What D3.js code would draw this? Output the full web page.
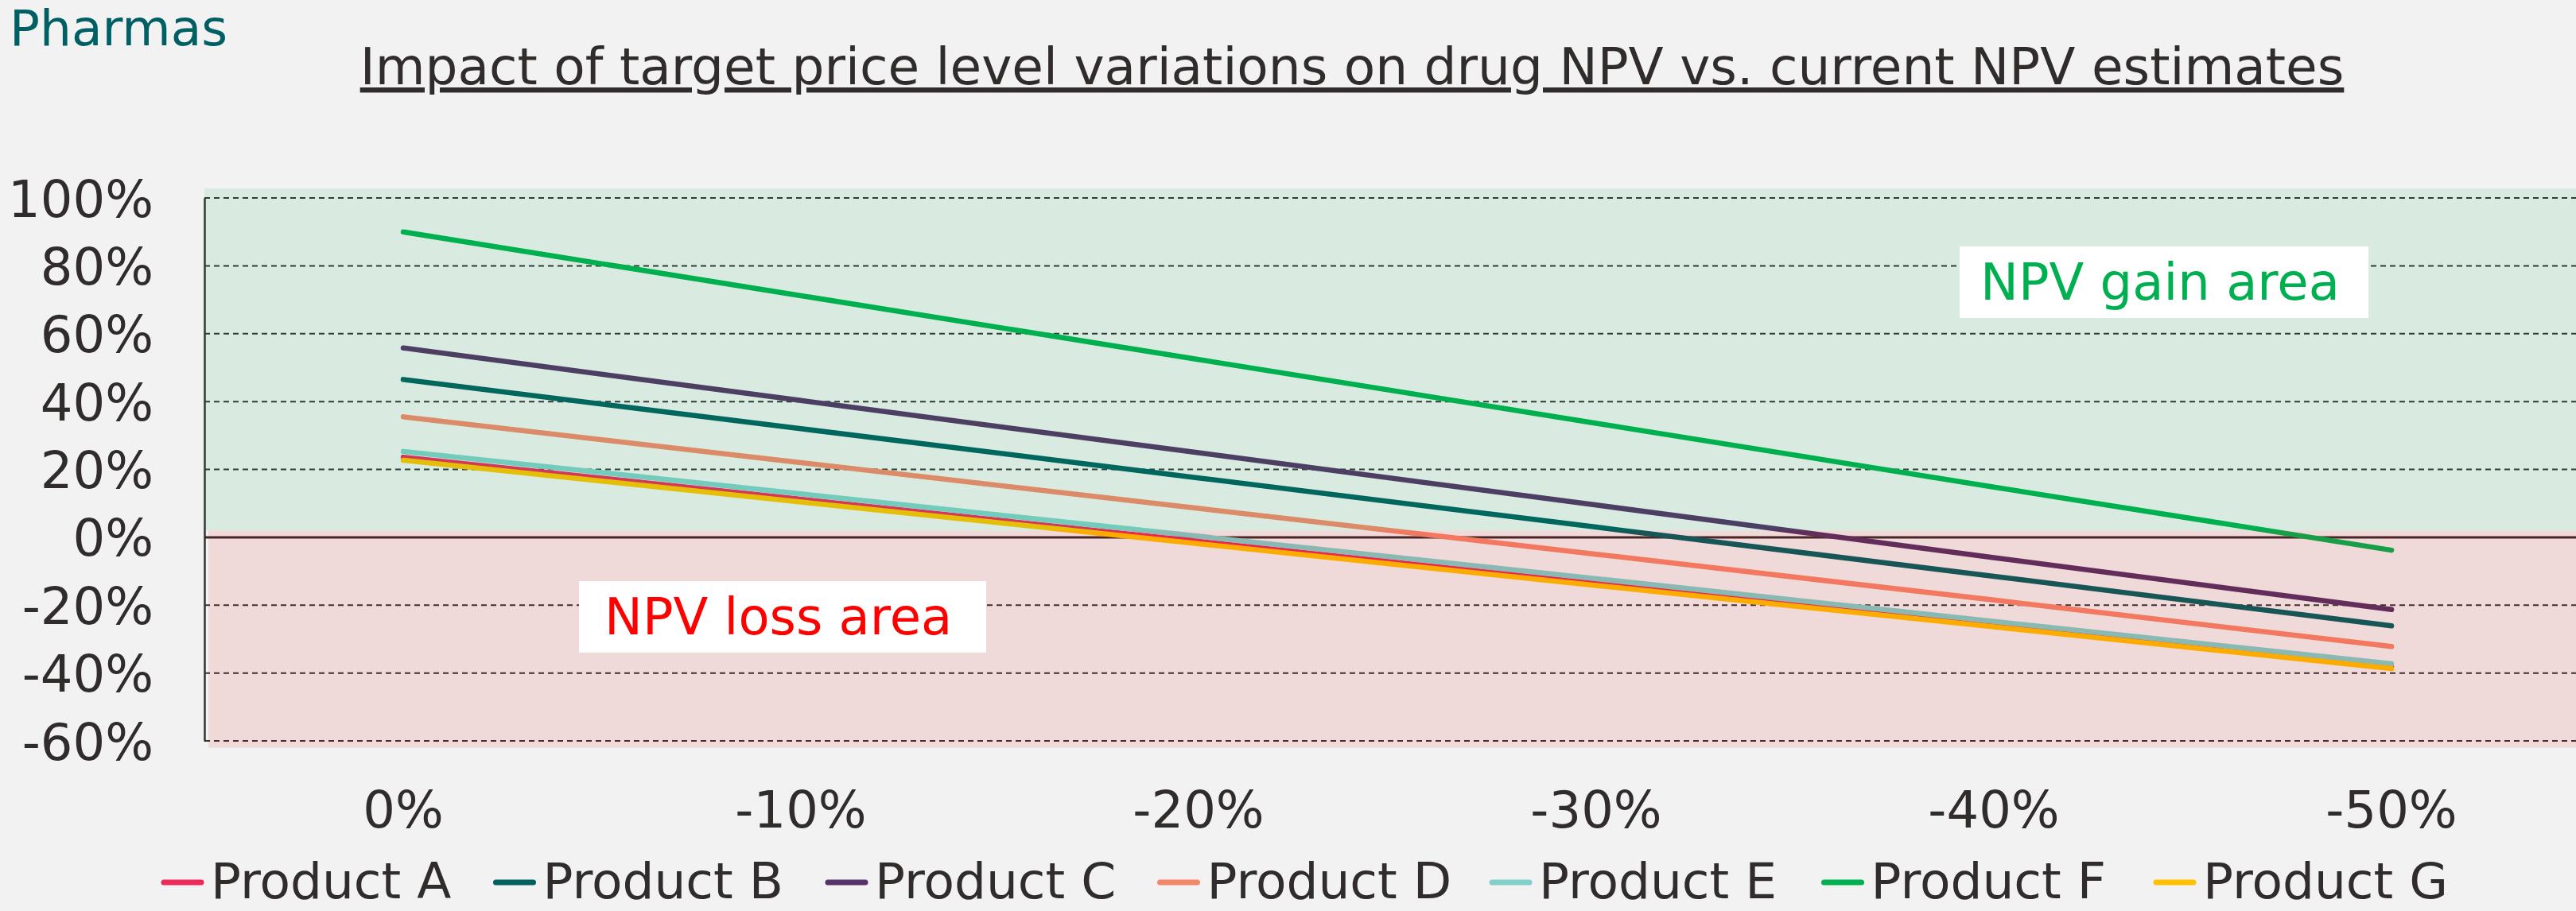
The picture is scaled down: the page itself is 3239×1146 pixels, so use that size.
<!DOCTYPE html>
<html>
  <head>
    <meta charset='utf-8'>
    <title>NPV vs target price</title>
    <script src='https://d3js.org/d3.v7.min.js'></script>
    <style>
      body { margin: 0; background: #f2f2f2; }
      text { font-family: 'DejaVu Sans', Verdana, sans-serif; fill: #302c2c; }
    </style>
  </head>

  <body>
    <div id='grafico'></div>
    <script>
    // Datos
    const categories = ['0%', '-10%', '-20%', '-30%', '-40%', '-50%'];
    const seriesNames = ['Product A', 'Product B', 'Product C', 'Product D', 'Product E', 'Product F', 'Product G'];
    const productA = [23.6, 11.2, -1.2, -13.6, -25.9, -38.2];
    const productB = [46.5, 32.0, 17.5, 3.0, -11.5, -26.1];
    const productC = [55.8, 40.3, 24.9, 9.5, -6.0, -21.3];
    const productD = [35.5, 22.0, 8.5, -5.0, -18.5, -32.2];
    const productE = [25.3, 12.8, 0.3, -12.2, -24.8, -37.3];
    const productF = [90.0, 71.2, 52.4, 33.6, 14.8, -3.8];
    const productG = [22.7, 10.4, -1.9, -14.2, -26.4, -38.7];
    const yTicks = [100, 80, 60, 40, 20, 0, -20, -40, -60];
    const colors = ['#ee2a5a', '#005f60', '#553366', '#f4876a', '#80cfc9', '#00b050', '#ffc000'];

    const series = [productA, productB, productC, productD, productE, productF, productG];

    // Tamaño del lienzo
    const W = 3239, H = 1146;
    const plot = { left: 257, right: 3257, top: 249, bottom: 932 };

    const svg = d3.select('#grafico').append('svg')
                  .attr('width', W)
                  .attr('height', H);

    // Escalas
    const xScale = d3.scaleBand()
      .domain(categories)
      .range([plot.left, plot.right]);
    const xc = c => xScale(c) + xScale.bandwidth() / 2;

    const yScale = d3.scaleLinear()
      .domain([-60, 100])
      .range([plot.bottom, plot.top]);

    // Títulos
    svg.append('text')
      .attr('x', 12).attr('y', 57)
      .style('font-size', '63px')
      .style('fill', '#005f63')
      .text('Pharmas');

    svg.append('text')
      .attr('x', 1700).attr('y', 106)
      .attr('text-anchor', 'middle')
      .style('font-size', '64.5px')
      .style('text-decoration', 'underline')
      .text('Impact of target price level variations on drug NPV vs. current NPV estimates');

    // Rejilla
    svg.append('g')
      .selectAll('line')
      .data(yTicks.filter(d => d !== 0)).enter().append('line')
      .attr('x1', plot.left).attr('x2', W)
      .attr('y1', d => yScale(d)).attr('y2', d => yScale(d))
      .attr('stroke', '#333')
      .attr('stroke-width', 2)
      .attr('stroke-dasharray', '7,5');

    // Eje Y
    const yAxis = d3.axisLeft(yScale)
      .tickValues(yTicks)
      .tickSize(0)
      .tickPadding(64)
      .tickFormat(d => d + '%');
    const gy = svg.append('g')
      .attr('transform', 'translate(' + plot.left + ',0)')
      .call(yAxis);
    gy.select('.domain').attr('stroke', '#333').attr('stroke-width', 2.5);
    gy.selectAll('text')
      .attr('fill', null)
      .attr('dy', '0.36em')
      .style('font-size', '64px');

    // Línea del cero
    svg.append('line')
      .attr('x1', plot.left).attr('x2', W)
      .attr('y1', yScale(0)).attr('y2', yScale(0))
      .attr('stroke', '#3a2a2a')
      .attr('stroke-width', 3);

    // Eje X (solo etiquetas)
    const xAxis = d3.axisBottom(xScale).tickSize(0).tickPadding(0);
    const gx = svg.append('g')
      .attr('transform', 'translate(0,1041)')
      .call(xAxis);
    gx.select('.domain').remove();
    gx.selectAll('text')
      .attr('fill', null)
      .attr('dy', 0)
      .style('font-size', '64px');

    // Líneas de cada producto
    const line = d3.line()
      .x((d, i) => xc(categories[i]))
      .y(d => yScale(d));

    svg.append('g')
      .selectAll('path')
      .data(series).enter().append('path')
      .attr('d', line)
      .attr('fill', 'none')
      .attr('stroke', (d, i) => colors[i])
      .attr('stroke-width', 6.5)
      .attr('stroke-linecap', 'round')
      .attr('stroke-linejoin', 'round');

    // Zonas de ganancia / pérdida (encima, semitransparentes)
    svg.append('rect')
      .attr('x', plot.left).attr('width', W - plot.left)
      .attr('y', yScale(102.8)).attr('height', yScale(2) - yScale(102.8))
      .attr('fill', '#00b050')
      .attr('fill-opacity', 0.1);
    svg.append('rect')
      .attr('x', plot.left + 5).attr('width', W - plot.left - 5)
      .attr('y', yScale(2)).attr('height', yScale(-62) - yScale(2))
      .attr('fill', '#e00000')
      .attr('fill-opacity', 0.1);

    // Etiquetas de zonas
    svg.append('rect')
      .attr('x', 2464).attr('y', 310).attr('width', 514).attr('height', 90)
      .attr('fill', '#fff');
    svg.append('text')
      .attr('x', 2490).attr('y', 377)
      .style('font-size', '64px')
      .style('fill', '#00b050')
      .text('NPV gain area');

    svg.append('rect')
      .attr('x', 728).attr('y', 731).attr('width', 512).attr('height', 90)
      .attr('fill', '#fff');
    svg.append('text')
      .attr('x', 760).attr('y', 798)
      .style('font-size', '64px')
      .style('fill', '#ff0000')
      .text('NPV loss area');

    // Leyenda
    const legend = svg.append('g')
      .selectAll('g')
      .data(seriesNames).enter().append('g')
      .attr('transform', (d, i) => 'translate(' + (203 + i * 417.5) + ',0)');
    legend.append('line')
      .attr('x1', 3).attr('x2', 50)
      .attr('y1', 1110).attr('y2', 1110)
      .attr('stroke', (d, i) => colors[i])
      .attr('stroke-width', 7)
      .attr('stroke-linecap', 'round');
    legend.append('text')
      .attr('x', 62).attr('y', 1130)
      .style('font-size', '63px')
      .text(d => d);
    </script>
  </body>
</html>
